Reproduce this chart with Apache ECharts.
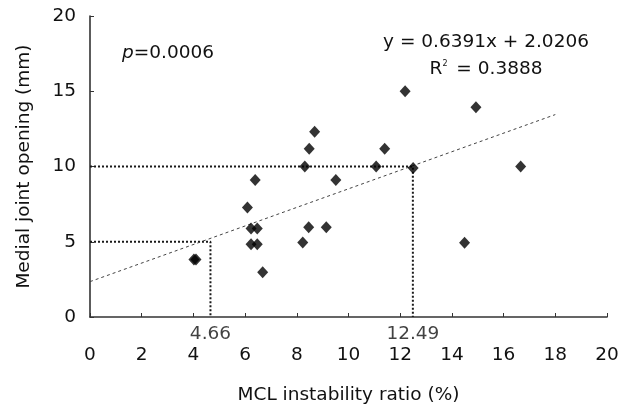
<!DOCTYPE html>
<html>
<head>
<meta charset="utf-8">
<script src="https://cdn.jsdelivr.net/npm/echarts@6/dist/echarts.min.js"></script>
<style>html,body{margin:0;padding:0;background:#fff}#c{width:623px;height:410px}</style>
</head>
<body>
<div id="c"></div>
<script>
// MCL instability ratio (%) vs medial joint opening (mm)
var ratioX = [4.02, 4.10, 6.09, 6.39, 6.23, 6.47, 6.23, 6.47, 6.68, 8.23, 8.31, 8.48, 8.69, 8.46, 9.14, 9.51, 11.07, 11.40, 12.19, 12.50, 14.49, 14.93, 16.66];
var openingY = [3.82, 3.82, 7.27, 9.10, 5.88, 5.88, 4.84, 4.84, 2.98, 4.95, 10.0, 11.18, 12.31, 5.97, 5.97, 9.10, 10.0, 11.18, 15.0, 9.90, 4.93, 13.94, 10.0];
var trendLine = [[0, 2.35], [18, 13.45]];
var refHigh = [[0, 10], [12.49, 10], [12.49, 0]];
var refLow = [[0, 5], [4.66, 5], [4.66, 0]];
var refLabels = [[4.66, 0, '4.66'], [12.49, 0, '12.49']];
var xTicks = [0, 2, 4, 6, 8, 10, 12, 14, 16, 18, 20];
var yTicks = [0, 5, 10, 15, 20];

var pts = ratioX.map(function (x, i) { return [x, openingY[i]]; });
var FONT = 'DejaVu Sans, sans-serif';
var FS = 18.5;
var TXT = '#111';

function refSeries(d) {
  return {
    type: 'line', data: d, symbol: 'none', silent: true, z: 1,
    lineStyle: { color: '#1a1a1a', width: 2, type: [2, 2] }
  };
}

var chart = echarts.init(document.getElementById('c'), null, { renderer: 'canvas' });
chart.setOption({
  animation: false,
  backgroundColor: '#fff',
  grid: { left: 90, right: 16, top: 16, bottom: 93 },
  xAxis: {
    type: 'value', min: 0, max: 20, interval: 2,
    name: 'MCL instability ratio (%)', nameLocation: 'middle', nameGap: 69,
    nameTextStyle: { color: TXT, fontSize: FS, fontFamily: FONT },
    axisLine: { lineStyle: { color: '#333', width: 1.6 } },
    axisTick: { show: true, inside: true, length: 4, lineStyle: { color: '#333', width: 1 } },
    axisLabel: { margin: 29, color: TXT, fontSize: FS, fontFamily: FONT, showMaxLabel: true, showMinLabel: true,
      formatter: function (v) { return xTicks.indexOf(v) >= 0 ? String(v) : ''; } },
    splitLine: { show: false }
  },
  yAxis: {
    type: 'value', min: 0, max: 20, interval: 5,
    name: 'Medial joint opening (mm)', nameLocation: 'middle', nameGap: 56,
    nameTextStyle: { color: TXT, fontSize: FS, fontFamily: FONT },
    axisLine: { show: true, lineStyle: { color: '#333', width: 1.6 } },
    axisTick: { show: true, inside: true, length: 4, lineStyle: { color: '#333', width: 1 } },
    axisLabel: { margin: 14, color: TXT, fontSize: FS, fontFamily: FONT,
      formatter: function (v) { return yTicks.indexOf(v) >= 0 ? String(v) : ''; } },
    splitLine: { show: false }
  },
  graphic: [
    { type: 'text', left: 122, top: 44, style: { text: '{i|p}=0.0006', fill: TXT, fontSize: FS, fontFamily: FONT,
      rich: { i: { fontStyle: 'italic', fontSize: FS, fontFamily: FONT, fill: TXT } } } },
    { type: 'text', x: 486, y: 42, style: { text: 'y = 0.6391x + 2.0206', fill: TXT, fontSize: FS, fontFamily: FONT, align: 'center', verticalAlign: 'middle' } },
    { type: 'text', x: 486, y: 69, style: { text: 'R{s|2} = 0.3888', fill: TXT, fontSize: FS, fontFamily: FONT, align: 'center', verticalAlign: 'middle',
      rich: { s: { fontSize: 8, verticalAlign: 'top', padding: [0, 3, 8, 0], fill: TXT, fontFamily: FONT } } } }
  ],
  series: [
    refSeries(refHigh),
    refSeries(refLow),
    {
      type: 'line', data: trendLine, symbol: 'none', silent: true, z: 2,
      lineStyle: { color: '#444', width: 1, type: [3, 3] }
    },
    {
      type: 'scatter', data: pts, symbol: 'diamond', symbolSize: [11, 12], z: 3,
      itemStyle: { color: '#000' }
    },
    {
      type: 'scatter', data: refLabels, symbolSize: 0, silent: true, z: 4,
      label: { show: true, position: 'bottom', distance: 8, color: TXT, fontSize: FS, fontFamily: FONT,
        formatter: function (p) { return p.value[2]; } }
    }
  ]
});
</script>
</body>
</html>
